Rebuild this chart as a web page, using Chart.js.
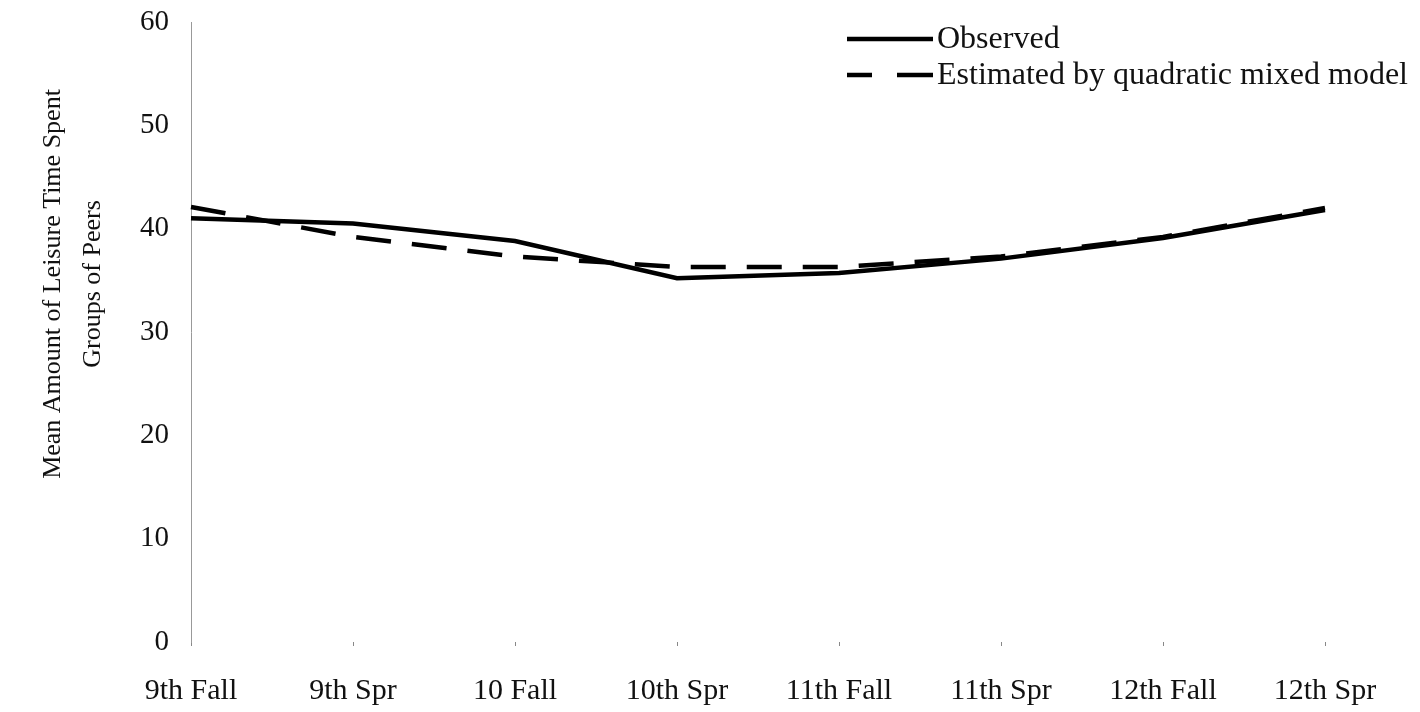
<!DOCTYPE html>
<html>
<head>
<meta charset="utf-8">
<script src="https://cdn.jsdelivr.net/npm/chart.js@4/dist/chart.umd.min.js"></script>
<style>
  html, body { margin: 0; padding: 0; background: #fff; }
  #wrap { position: relative; width: 1420px; height: 712px; }
</style>
</head>
<body>
<div id="wrap"><canvas id="peers-chart"></canvas></div>
<script>
const SEMESTERS = ['9th Fall', '9th Spr', '10 Fall', '10th Spr', '11th Fall', '11th Spr', '12th Fall', '12th Spr'];
const OBSERVED  = [41.0, 40.5, 38.8, 35.2, 35.7, 37.1, 39.1, 41.8];
const ESTIMATED = [42.1, 39.2, 37.3, 36.3, 36.3, 37.3, 39.2, 42.0];
const Y_TITLE   = ['Mean Amount of Leisure Time Spent', 'Groups of Peers'];

const FONT = '"Liberation Serif", "Times New Roman", serif';

// rotated two-line axis caption, placed a bit above the axis middle
const sideTitle = {
    id: 'sideTitle',
    afterDraw(chart) {
        const ctx = chart.ctx;
        ctx.save();
        ctx.fillStyle = '#111';
        ctx.font = `26px ${FONT}`;
        ctx.textAlign = 'center';
        ctx.textBaseline = 'middle';
        const xs = [53, 93];
        Y_TITLE.forEach((line, i) => {
            ctx.save();
            ctx.translate(xs[i], 284);
            ctx.rotate(-Math.PI / 2);
            ctx.fillText(line, 0, 0);
            ctx.restore();
        });
        ctx.restore();
    },
};

// legend in the upper right: line sample followed by the label
const lineLegend = {
    id: 'lineLegend',
    afterDraw(chart) {
        const ctx = chart.ctx;
        const x0 = 847, x1 = 933;
        const rows = [39, 75];
        ctx.save();
        ctx.font = `32px ${FONT}`;
        ctx.textBaseline = 'middle';
        ctx.fillStyle = '#111';
        chart.data.datasets.forEach((ds, i) => {
            const y = rows[i];
            ctx.strokeStyle = ds.borderColor;
            ctx.lineWidth = ds.borderWidth;
            ctx.setLineDash(ds.borderDash && ds.borderDash.length ? [25, 25, 40] : []);
            ctx.beginPath();
            ctx.moveTo(x0, y);
            ctx.lineTo(x1, y);
            ctx.stroke();
            ctx.setLineDash([]);
            ctx.fillText(ds.label, x1 + 4, y + 1);
        });
        ctx.restore();
    },
};

new Chart(document.getElementById('peers-chart'), {
    type: 'line',
    data: {
        labels: SEMESTERS,
        datasets: [
            { label: 'Observed', data: OBSERVED, borderColor: '#000', borderWidth: 4.5,
              borderDash: [], pointRadius: 0, tension: 0, fill: false },
            { label: 'Estimated by quadratic mixed model', data: ESTIMATED, borderColor: '#000',
              borderWidth: 4.5, borderDash: [35, 21], pointRadius: 0, tension: 0, fill: false },
        ],
    },
    options: {
        responsive: true,
        maintainAspectRatio: false,
        animation: false,
        layout: { padding: { top: 22, right: 95, left: 0, bottom: 0 } },
        plugins: { legend: { display: false }, tooltip: { enabled: false } },
        scales: {
            x: {
                offset: false,
                grid: { drawOnChartArea: false, tickLength: 4, color: '#888', lineWidth: 1 },
                border: { display: false },
                ticks: { color: '#111', font: { family: FONT, size: 30 }, padding: 27, maxRotation: 0 },
                afterFit: (scale) => { scale.height = 70; },
            },
            y: {
                min: 0, max: 60,
                grid: { display: false, drawTicks: false },
                border: { display: true, color: '#999', width: 1, dash: [9, 3, 2, 3] },
                ticks: { stepSize: 10, color: '#111', font: { family: FONT, size: 29 }, padding: 22 },
                afterFit: (scale) => {
                    scale.width = 191;
                    scale.paddingTop = 0;
                    scale.paddingBottom = 0;
                },
            },
        },
    },
    plugins: [sideTitle, lineLegend],
});
</script>
</body>
</html>
